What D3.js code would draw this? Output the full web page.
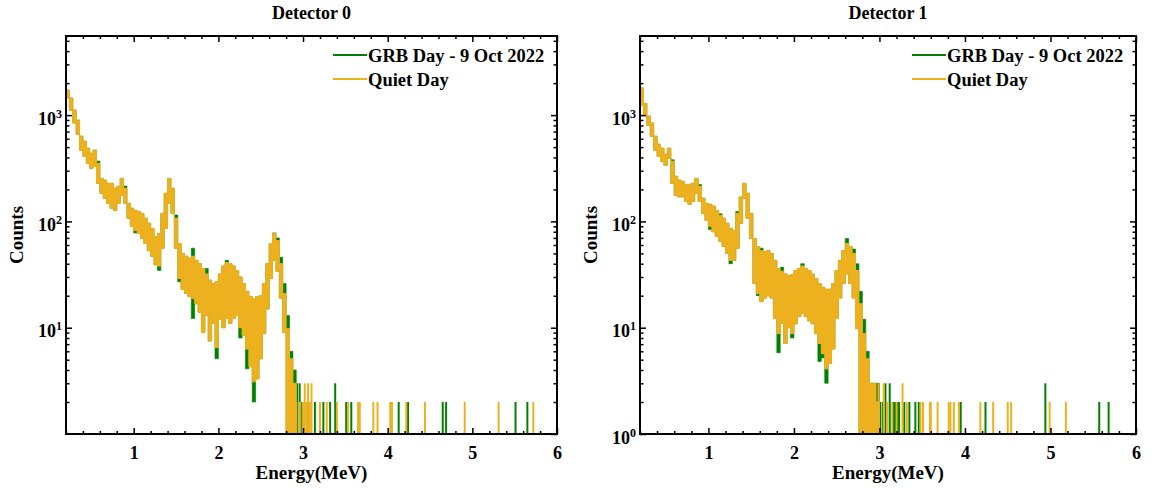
<!DOCTYPE html>
<html>
<head>
<meta charset="utf-8">
<script src="https://cdn.jsdelivr.net/npm/d3@7"></script>
<style>
  body { margin: 0; background: #fff; }
  text { font-family: "Liberation Serif", "Times New Roman", serif; font-weight: bold; fill: #000; }
</style>
</head>
<body>
<svg id="chart" width="1152" height="491"></svg>
<script>
// spectra: counts per 0.04 MeV bin, low and high of the noisy band
const binWidth = 0.04;

const det0QuietHi = [1722,1446,1114,897,633,568,488,438,468,352,254,244,228,228,205,214,254,205,148,133,127,124,119,107,96,86,72,77,119,184,254,205,107,62,50,47,45,47,43,40,36,32,28,26,27,32,38,41,40,38,34.5,30,26,22,19.6,18.8,19.6,20,26,40,62,77,66,40,21,9.8,5.1,3];
const det0QuietLo = [1446,1114,841,662,468,410,352,316,330,228,184,165,148,133,127,148,176,148,107,90,82,77,69,62,53,47,39,38,56,86,148,119,56,29,23,21,19.6,18.8,16.8,14,9,13,7.5,11,6.5,12,10,12.2,11,12.2,13,10,8.5,6.3,4.3,3.1,3.3,5.1,8.8,15,29,43,34,19,9,1,1,1];
const det0GrbHi = [1722,1446,1114,897,633,568,488,438,468,370,254,244,228,228,205,214,254,215,148,133,127,124,119,107,96,86,72,77,119,184,254,205,115,62,50,47,45,56,43,40,36,36,28,26,27,32,38,43,40,38,34.5,30,26,22,19.6,18.8,19.6,20,26,40,62,78,70,46,26,13,6,4];
const det0GrbLo = [1446,1114,841,662,468,410,352,316,330,228,184,165,148,133,127,148,176,148,107,90,78,77,69,62,53,47,39,34.5,56,86,148,119,56,27,23,21,19.6,12.2,16.8,14,9,13,7.5,11,5.1,12,10,12.2,11,12.2,13,8,8.5,4.1,4.3,2,3.3,5.1,8.8,15,29,43,34,19,9,1,1,1];

const det1QuietHi = [1800,1288,979,841,633,532,488,428,488,368,266,244,238,223,223,228,254,214,165,148,145,139,127,114,107,96,86,82,119,170,228,184,119,69,58,53,52,53,50,43,36,34,32,31,31.6,34.5,36,38,36,34.5,32,29,26,24,23,23,26,34.5,43,53,62,58,50,34.5,16.8,8.8,5.1,3,3,2];
const det1QuietLo = [1243,1005,805,633,468,410,368,337,393,228,176,170,170,154,145,154,184,154,119,102,90,80,72,65,58,50,43,43,56,96,165,107,69,26,21,17.6,19,20,19,12.2,8.8,11,7.1,10,8.8,10.9,12.7,13.6,12.7,11.6,10.9,8.8,7.1,5.7,4.1,4.6,6.3,12.2,19,26,32,26,19,9.8,1,1,1,1,1,1];
const det1GrbHi = [1800,1288,979,841,633,532,488,428,488,380,266,244,238,223,223,228,254,222,165,148,145,139,127,118,107,96,86,82,124,170,228,184,119,69,58,56,52,53,50,43,36,37,32,31,31.6,34.5,36,40,36,34.5,32,29,26,24,23,23,26,34.5,43,53,69,58,55,40,22,12,6,3,3,3];
const det1GrbLo = [1243,1005,805,633,468,410,368,337,393,228,176,170,170,154,145,154,184,154,119,102,84,80,72,65,58,50,40,43,56,96,165,107,69,26,20,17.6,19,20,19,12.2,5.8,11,7.1,10,8,10.9,12.7,13.6,12.7,11.6,10.9,8.8,4.8,5.2,3,4.6,6.3,12.2,19,26,32,26,19,9.8,1,1,1,1,1,1];

// sparse high-energy bins (energy in MeV, counts)
const det0QuietTailE = [2.92,2.96,3.00,3.02,3.04,3.06,3.08,3.10,3.20,3.28,3.40,3.53,3.65,3.67,3.83,3.88,4.03,4.05,4.22,4.44,4.91,5.31,5.72];
const det0QuietTailN = [2,2,2,3,2,3,2,3,2,2,2,2,2,2,2,2,2,2,2,2,2,2,2];
const det0GrbTailE = [2.90,2.93,2.96,2.99,3.05,3.14,3.24,3.32,3.38,3.51,3.57,4.13,4.24,4.65,4.69,5.51,5.65];
const det0GrbTailN = [3,3,3,2,2,2,2,2,3,2,2,2,2,2,2,2,2];

const det1QuietTailE = [2.99,3.05,3.09,3.15,3.20,3.27,3.32,3.48,3.51,3.59,3.60,3.68,3.81,3.83,3.87,3.93,4.18,4.33,4.50,4.54,4.99,5.18];
const det1QuietTailN = [3,3,2,2,2,3,2,2,2,2,2,2,2,2,2,2,2,2,2,2,2,2];
const det1GrbTailE = [2.93,3.01,3.04,3.07,3.12,3.17,3.19,3.21,3.23,3.29,3.35,3.42,3.46,3.95,4.24,4.94,5.57,5.68];
const det1GrbTailN = [3,2,2,3,3,2,2,2,2,2,2,2,2,2,2,3,2,2];

const xTicks = [1, 2, 3, 4, 5, 6];
const det0YTicks = [10, 100, 1000];
const det1YTicks = [1, 10, 100, 1000];
const titles = ['Detector 0', 'Detector 1'];
const legendLabels = ['GRB Day - 9 Oct 2022', 'Quiet Day'];

const colors = { grb: '#008000', quiet: '#EDB120' };

const svg = d3.select('#chart');

const panels = [
  { title: titles[0], left: 66, right: 557, top: 36, bottom: 434, yTicks: det0YTicks,
    grb: [det0GrbLo, det0GrbHi, det0GrbTailE, det0GrbTailN],
    quiet: [det0QuietLo, det0QuietHi, det0QuietTailE, det0QuietTailN] },
  { title: titles[1], left: 640, right: 1136, top: 36, bottom: 434, yTicks: det1YTicks,
    grb: [det1GrbLo, det1GrbHi, det1GrbTailE, det1GrbTailN],
    quiet: [det1QuietLo, det1QuietHi, det1QuietTailE, det1QuietTailN] }
];

function toBins(lo, hi) {
  const pts = lo.map((l, i) => ({ e: 0.2 + i * binWidth, lo: l, hi: hi[i] }));
  const last = pts[pts.length - 1];
  pts.push({ e: last.e + binWidth, lo: last.lo, hi: last.hi });
  return pts;
}

function drawPanel(p, idx) {
  const x = d3.scaleLinear().domain([0.2, 6]).range([p.left, p.right]);
  const y = d3.scaleLog().domain([1, 5550]).range([p.bottom, p.top]);

  const clipId = 'clip' + idx;
  svg.append('clipPath').attr('id', clipId)
    .append('rect')
    .attr('x', p.left).attr('y', p.top)
    .attr('width', p.right - p.left).attr('height', p.bottom - p.top);

  const g = svg.append('g').attr('clip-path', `url(#${clipId})`);

  const area = d3.area()
    .curve(d3.curveStepAfter)
    .x(d => x(d.e))
    .y0(d => y(d.lo))
    .y1(d => y(d.hi));

  [['grb', colors.grb, 0.6], ['quiet', colors.quiet, 1]].forEach(([key, col, sw]) => {
    const [lo, hi, tailE, tailN] = p[key];
    g.append('path')
      .datum(toBins(lo, hi))
      .attr('d', area)
      .attr('fill', col)
      .attr('stroke', col)
      .attr('stroke-width', sw);

    g.selectAll('.tail-' + key)
      .data(tailE.map((e, i) => ({ e, n: tailN[i] })))
      .enter()
      .append('line')
      .attr('class', 'tail-' + key)
      .attr('x1', d => x(d.e)).attr('x2', d => x(d.e))
      .attr('y1', y(1)).attr('y2', d => y(d.n))
      .attr('stroke', col)
      .attr('stroke-width', 2);
  });

  // axes, ticks pointing inward
  const minorX = d3.range(0.2, 6.001, 0.2).map(v => +v.toFixed(1)).filter(v => !xTicks.includes(v));
  const minorY = [];
  [1, 10, 100, 1000].forEach(d => [2, 3, 4, 5, 6, 7, 8, 9].forEach(m => { if (d * m < 5550) minorY.push(d * m); }));

  const axG = svg.append('g');

  axG.append('g').attr('transform', `translate(0,${p.bottom})`)
    .call(d3.axisBottom(x).tickValues(xTicks).tickSize(-6).tickSizeOuter(0).tickPadding(12).tickFormat(d3.format('d')));
  axG.append('g').attr('transform', `translate(0,${p.bottom})`)
    .call(d3.axisBottom(x).tickValues(minorX).tickSize(-3).tickSizeOuter(0).tickFormat(''));
  axG.append('g').attr('transform', `translate(0,${p.top})`)
    .call(d3.axisTop(x).tickValues(xTicks).tickSize(-6).tickSizeOuter(0).tickFormat(''));
  axG.append('g').attr('transform', `translate(0,${p.top})`)
    .call(d3.axisTop(x).tickValues(minorX).tickSize(-3).tickSizeOuter(0).tickFormat(''));

  const yAxisL = axG.append('g').attr('transform', `translate(${p.left},0)`)
    .call(d3.axisLeft(y).tickValues(p.yTicks).tickSize(-6).tickSizeOuter(0).tickPadding(4).tickFormat(''));
  axG.append('g').attr('transform', `translate(${p.left},0)`)
    .call(d3.axisLeft(y).tickValues(minorY).tickSize(-3.5).tickSizeOuter(0).tickFormat(''));
  axG.append('g').attr('transform', `translate(${p.right},0)`)
    .call(d3.axisRight(y).tickValues([1, 10, 100, 1000]).tickSize(-6).tickSizeOuter(0).tickFormat(''));
  axG.append('g').attr('transform', `translate(${p.right},0)`)
    .call(d3.axisRight(y).tickValues(minorY).tickSize(-3.5).tickSizeOuter(0).tickFormat(''));

  yAxisL.selectAll('.tick text').each(function (d) {
    const t = d3.select(this).attr('dy', '0.5em');
    t.append('tspan').text('10');
    t.append('tspan').attr('dy', -7).attr('font-size', 12).text(Math.round(Math.log10(d)));
  });

  axG.selectAll('.domain').remove();
  axG.selectAll('.tick line').attr('stroke', '#000').attr('stroke-width', 1.5);
  axG.selectAll('.tick text').attr('font-size', 18).attr('font-family', null);

  svg.append('rect')
    .attr('x', p.left).attr('y', p.top)
    .attr('width', p.right - p.left).attr('height', p.bottom - p.top)
    .attr('fill', 'none').attr('stroke', '#000').attr('stroke-width', 2);

  const cx = (p.left + p.right) / 2;
  svg.append('text').attr('x', cx).attr('y', 19).attr('text-anchor', 'middle')
    .attr('font-size', 18).text(p.title);
  svg.append('text').attr('x', cx).attr('y', 479).attr('text-anchor', 'middle')
    .attr('font-size', 19).text('Energy(MeV)');
  svg.append('text').attr('transform', `translate(${p.left - 43},${(p.top + p.bottom) / 2}) rotate(-90)`)
    .attr('text-anchor', 'middle').attr('font-size', 19).text('Counts');

  // legend
  const lg = svg.append('g').attr('transform', `translate(${p.right - 190},0)`);
  [colors.grb, colors.quiet].forEach((col, i) => {
    lg.append('line').attr('x1', -34).attr('x2', 0)
      .attr('y1', 55 + i * 24).attr('y2', 55 + i * 24)
      .attr('stroke', col).attr('stroke-width', 2);
    lg.append('text').attr('x', 1).attr('y', 62 + i * 24)
      .attr('font-size', 18.5).text(legendLabels[i]);
  });
}

panels.forEach(drawPanel);
</script>
</body>
</html>
